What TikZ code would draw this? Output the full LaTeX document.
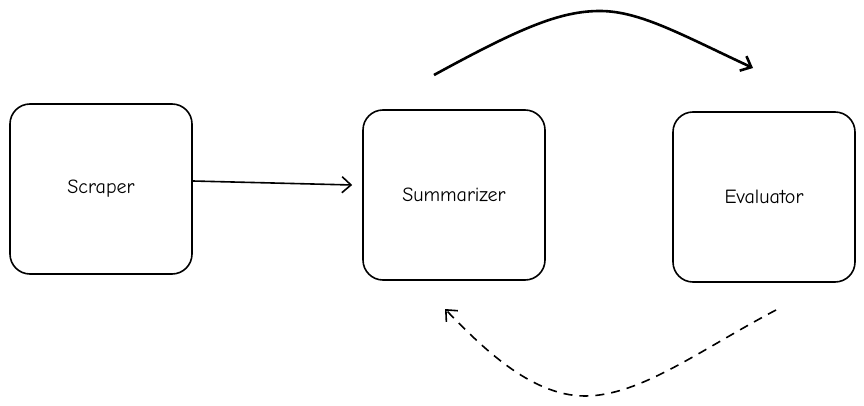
\documentclass[tikz,border=0pt]{standalone}
\usepackage{fontspec}
\setmainfont{Comic Neue}
\usetikzlibrary{arrows.meta}
\begin{document}
\begin{tikzpicture}[x=1pt,y=-1pt,
  agent/.style={draw,line width=1.6pt,rounded corners=20pt,minimum width=182pt,minimum height=170pt,font=\fontsize{20}{24}\selectfont},
  flow/.style={line width=1.6pt,-{Straight Barb[length=9pt,width=16pt]}}]
\useasboundingbox (0,0) rectangle (864,406);
\node[agent] at (101,189) (scraper) {Scraper};
\node[agent] at (454,195) (summarizer) {Summarizer};
\node[agent] at (764,197) (evaluator) {Evaluator};

\coordinate (a1) at (434,75);
\coordinate (a2) at (753,68);
\coordinate (b1) at (776,310);
\coordinate (b2) at (445,309);

\draw[flow] ([yshift=8pt]scraper.east) -- ([yshift=10pt,xshift=-10pt]summarizer.west);
\draw[flow,line width=2.6pt] (a1) .. controls (520,28) and (560,11) .. (600,11) .. controls (640,11) and (682,35) .. (a2);
\draw[flow,dashed,dash pattern=on 9pt off 7pt] (b1) .. controls (700,350) and (640,396) .. (585,396) .. controls (530,396) and (480,345) .. (b2);
\end{tikzpicture}
\end{document}
